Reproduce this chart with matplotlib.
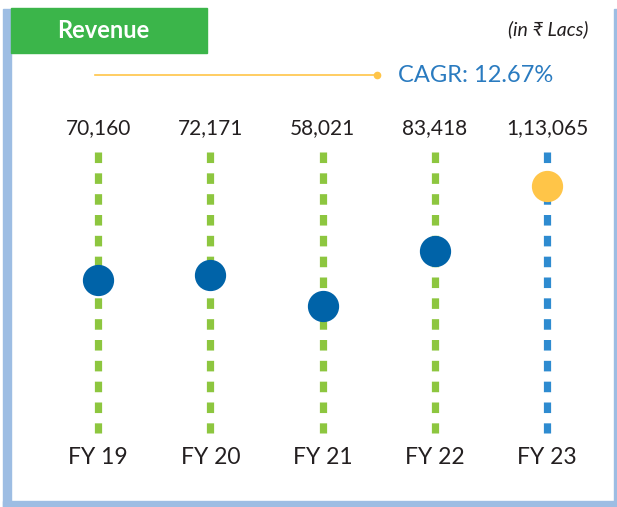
import matplotlib
matplotlib.use("Agg")
import matplotlib.pyplot as plt
import matplotlib.transforms as mtransforms
from matplotlib.patches import Rectangle
from matplotlib.lines import Line2D

plt.rcParams["font.family"] = ["Lato", "DejaVu Sans"]
plt.rcParams["lines.scale_dashes"] = False

years = ["FY 19", "FY 20", "FY 21", "FY 22", "FY 23"]
revenue = [70160, 72171, 58021, 83418, 113065]
value_labels = ["70,160", "72,171", "58,021", "83,418", "1,13,065"]
cagr_text = "CAGR: 12.67%"

GREEN = "#8dc63f"
BLUE_DASH = "#2e8bd0"
DOT_BLUE = "#0063a8"
DOT_YELLOW = "#ffc548"
FRAME = "#9dbde3"
TEXT = "#231f20"

W, H = 617, 507
fig = plt.figure(figsize=(W / 100, H / 100), dpi=100)


def fx(px):
    return px / W


def fy(py):
    return 1 - py / H


# frame (left, bottom, right)
fig.patches.append(Rectangle((fx(3), fy(507)), fx(8), fy(9) - fy(507),
                             transform=fig.transFigure, color=FRAME, zorder=0))
fig.patches.append(Rectangle((fx(3), fy(507)), fx(614), fy(501) - fy(507),
                             transform=fig.transFigure, color=FRAME, zorder=0))
fig.patches.append(Rectangle((fx(614), fy(507)), fx(3), fy(9) - fy(507),
                             transform=fig.transFigure, color=FRAME, zorder=0))

# title box
fig.patches.append(Rectangle((fx(11), fy(53)), fx(196), fy(8) - fy(53),
                             transform=fig.transFigure, color="#3bb54a", zorder=1))
fig.text(fx(103), fy(30), "Revenue", color="white", fontsize=17,
         fontweight="bold", ha="center", va="center")
fig.text(fx(588), fy(29), "(in ₹ Lacs)", color=TEXT, fontsize=14,
         fontstyle="italic", ha="right", va="center")

# CAGR line
fig.lines.append(Line2D([fx(95), fx(377)], [fy(74.5), fy(74.5)],
                        transform=fig.transFigure, color=DOT_YELLOW, lw=1.2))
fig.lines.append(Line2D([fx(377)], [fy(74.5)], transform=fig.transFigure,
                        marker="o", ms=4.5, color=DOT_YELLOW, lw=0))
fig.text(fx(398), fy(75), cagr_text, color="#2a7bc0", fontsize=17,
         ha="left", va="center")

# chart area
ax = fig.add_axes([fx(42), fy(432.5), fx(561), fy(152) - fy(432.5)])
ax.set_xlim(-0.5, len(years) - 0.5)
ax.set_ylim(0, 128800)
ax.axis("off")

x = list(range(len(years)))
for i in x:
    last = i == len(years) - 1
    ax.plot([i, i], [128800, 0], color=BLUE_DASH if last else GREEN,
            lw=5.2, linestyle=(0, (7.6, 7.4)), dash_capstyle="butt",
            solid_capstyle="butt", zorder=1, clip_on=False)
    ax.plot(i, revenue[i], marker="o", ms=21.5,
            color=DOT_YELLOW if last else DOT_BLUE, lw=0, zorder=3,
            clip_on=False)

trans = mtransforms.blended_transform_factory(ax.transData, ax.transAxes)
for i, lab in enumerate(value_labels):
    ax.text(i, (432.5 - 128.5) / 280.5, lab, transform=trans, ha="center",
            va="center", fontsize=15, color=TEXT)
for i, lab in enumerate(years):
    ax.text(i, (432.5 - 458) / 280.5, lab, transform=trans, ha="center",
            va="center", fontsize=16.5, color=TEXT)

fig.savefig("out.png", dpi=100)
